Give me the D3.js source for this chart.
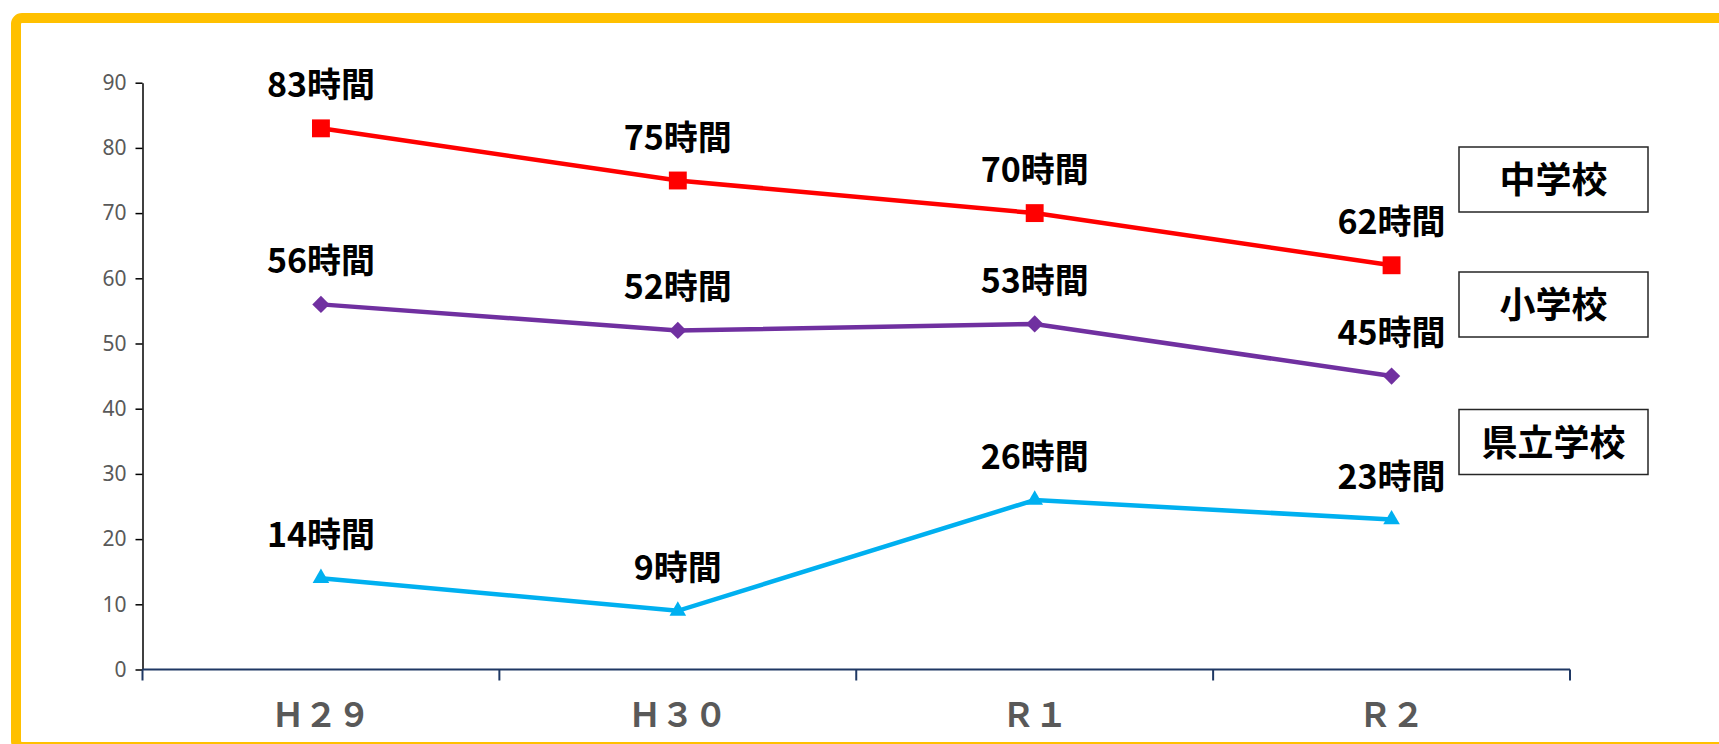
<!DOCTYPE html>
<html>
<head>
<meta charset="utf-8">
<script src="https://cdn.jsdelivr.net/npm/d3@7"></script>
<style>
  body { margin: 0; background: #fff; }
  svg { display: block; }
</style>
</head>
<body>
<div id="chart"></div>
<script>
// 年度と各校種の時間数
const years = ["Ｈ２９", "Ｈ３０", "Ｒ１", "Ｒ２"];
const seriesNames = ["中学校", "小学校", "県立学校"];
const juniorHigh = [83, 75, 70, 62];
const elementary = [56, 52, 53, 45];
const prefectural = [14, 9, 26, 23];
const yTicks = [0, 10, 20, 30, 40, 50, 60, 70, 80, 90];

const width = 1719;
const height = 744;

const svg = d3.select("#chart")
    .append("svg")
    .attr("width", width)
    .attr("height", height);

// 黄色の枠（右と下ははみ出している）
svg.append("rect")
    .attr("x", 16).attr("y", 18)
    .attr("width", 1800).attr("height", 729)
    .attr("rx", 6)
    .attr("fill", "#fff")
    .attr("stroke", "#FFC000")
    .attr("stroke-width", 10);

const x = d3.scaleBand().domain(years).range([142.5, 1570]).padding(0);
const y = d3.scaleLinear().domain([0, 90]).range([669.5, 82.7]);
const cx = d => x(d) + x.bandwidth() / 2;

// 縦軸
const yAxis = svg.append("g")
    .attr("transform", "translate(142.5,0)")
    .call(d3.axisLeft(y).tickValues(yTicks).tickSize(7).tickSizeOuter(0).tickPadding(9));
yAxis.select(".domain").attr("stroke", "#000").attr("stroke-width", 1.5);
yAxis.selectAll(".tick line").attr("stroke", "#000").attr("stroke-width", 1.5);
yAxis.selectAll(".tick text")
    .attr("fill", "#595959")
    .style("font-family", "'Noto Sans', sans-serif")
    .style("font-size", "21px");

// 横軸（区切り目盛り）
const xAxis = svg.append("g");
xAxis.append("line")
    .attr("x1", x.range()[0]).attr("x2", x.range()[1])
    .attr("y1", y(0)).attr("y2", y(0))
    .attr("stroke", "#1F3864").attr("stroke-width", 2);
xAxis.selectAll("line.tk")
    .data(years.map(d => x(d)).concat([x.range()[1]]))
    .enter().append("line")
    .attr("class", "tk")
    .attr("x1", d => d).attr("x2", d => d)
    .attr("y1", y(0)).attr("y2", y(0) + 11)
    .attr("stroke", "#1F3864").attr("stroke-width", 2);
xAxis.selectAll("text")
    .data(years)
    .enter().append("text")
    .attr("x", d => cx(d))
    .attr("y", 727)
    .attr("text-anchor", "middle")
    .attr("fill", "#595959")
    .style("font-family", "'Noto Sans CJK JP', sans-serif")
    .style("font-weight", "700")
    .style("font-size", "33px")
    .text(d => d);

// 系列
const series = [
    { name: seriesNames[0], values: juniorHigh, color: "#FF0000", marker: d3.symbolSquare, size: 320, rot: 0 },
    { name: seriesNames[1], values: elementary, color: "#7030A0", marker: d3.symbolSquare, size: 150, rot: 45 },
    { name: seriesNames[2], values: prefectural, color: "#00B0F0", marker: d3.symbolTriangle, size: 120, rot: 0 }
];

const line = d3.line()
    .x((d, i) => cx(years[i]))
    .y(d => y(d));

series.forEach(s => {
    svg.append("path")
        .datum(s.values)
        .attr("d", line)
        .attr("fill", "none")
        .attr("stroke", s.color)
        .attr("stroke-width", 4.5);

    svg.selectAll(null)
        .data(s.values)
        .enter().append("path")
        .attr("d", d3.symbol().type(s.marker).size(s.size))
        .attr("transform", (d, i) => `translate(${cx(years[i])},${y(d)}) rotate(${s.rot})`)
        .attr("fill", s.color);

    svg.selectAll(null)
        .data(s.values)
        .enter().append("text")
        .attr("x", (d, i) => cx(years[i]))
        .attr("y", d => y(d) - 31)
        .attr("text-anchor", "middle")
        .attr("fill", "#000")
        .style("font-family", "'Noto Sans CJK JP', sans-serif")
        .style("font-weight", "700")
        .style("font-size", "34px")
        .text(d => d + "時間");
});

// 凡例の箱
const legendTop = [147, 272, 409.5];
series.forEach((s, i) => {
    const g = svg.append("g").attr("transform", `translate(1459,${legendTop[i]})`);
    g.append("rect")
        .attr("width", 189).attr("height", 65)
        .attr("fill", "#fff")
        .attr("stroke", "#262626")
        .attr("stroke-width", 1.5);
    g.append("text")
        .attr("x", 94.5).attr("y", 46)
        .attr("text-anchor", "middle")
        .attr("fill", "#000")
        .style("font-family", "'Noto Sans CJK JP', sans-serif")
        .style("font-weight", "700")
        .style("font-size", "36px")
        .text(s.name);
});
</script>
</body>
</html>
